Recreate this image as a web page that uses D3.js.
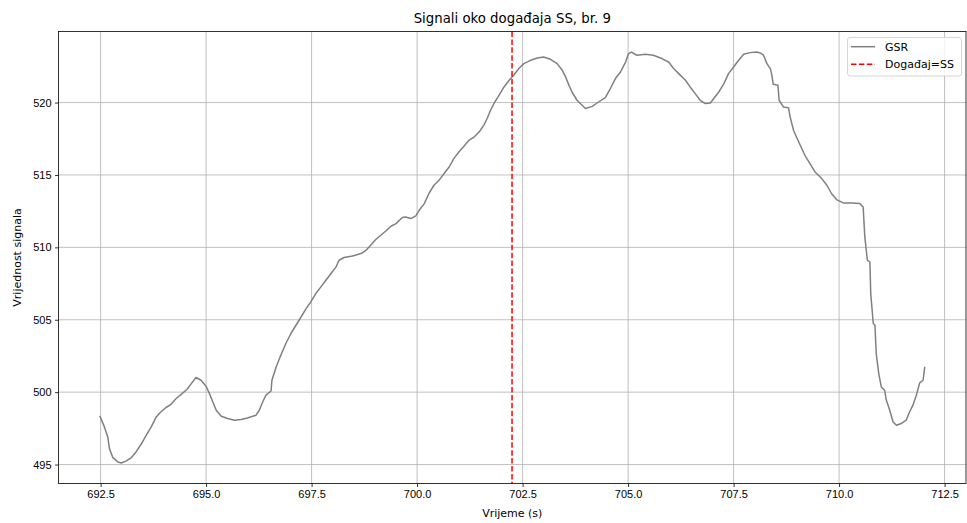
<!DOCTYPE html>
<html>
<head>
<meta charset="utf-8">
<script src="https://cdn.jsdelivr.net/npm/d3@7"></script>
<style>
  body { margin: 0; background: #fff; }
  svg { font-family: "DejaVu Sans", sans-serif; }
</style>
</head>
<body>
<svg id="chart" width="967" height="523"></svg>
<script>
// GSR signal around event SS no. 9
const time = [692.48,692.59,692.67,692.71,692.79,692.91,692.99,693.11,693.23,693.34,693.46,693.58,693.70,693.82,693.90,
  694.05,694.17,694.29,694.41,694.55,694.65,694.76,694.88,695.00,695.08,695.16,695.24,695.36,695.51,695.67,695.83,695.98,
  696.18,696.26,696.34,696.42,696.54,696.56,696.66,696.77,696.89,697.01,697.13,697.25,697.37,697.48,697.60,697.72,697.84,
  697.96,698.08,698.15,698.27,698.47,698.67,698.79,698.90,699.02,699.14,699.26,699.38,699.50,699.65,699.73,699.85,699.97,
  700.05,700.17,700.28,700.40,700.52,700.64,700.76,700.87,700.99,701.11,701.23,701.35,701.47,701.58,701.66,701.74,701.82,
  701.94,702.06,702.18,702.29,702.41,702.53,702.69,702.85,703.00,703.16,703.32,703.44,703.52,703.60,703.67,703.79,703.91,
  703.99,704.15,704.30,704.46,704.58,704.70,704.82,704.94,705.01,705.08,705.21,705.41,705.60,705.80,705.96,706.08,706.20,
  706.36,706.47,706.59,706.71,706.83,706.95,707.03,707.15,707.27,707.38,707.50,707.62,707.74,707.89,708.05,708.13,708.21,
  708.29,708.37,708.40,708.44,708.55,708.58,708.68,708.80,708.84,708.92,708.99,709.08,709.19,709.31,709.43,709.59,709.71,
  709.82,709.94,710.10,710.30,710.49,710.57,710.61,710.67,710.73,710.75,710.81,710.85,710.88,710.94,711.00,711.08,711.12,
  711.20,711.28,711.36,711.47,711.59,711.67,711.75,711.83,711.91,711.99,712.03];
const gsr = [498.36,497.60,496.91,496.10,495.48,495.18,495.11,495.25,495.48,495.87,496.40,497.02,497.60,498.29,498.56,
  498.94,499.16,499.56,499.85,500.20,500.59,501.01,500.82,500.41,499.90,499.32,498.75,498.34,498.18,498.06,498.11,498.22,
  498.40,498.75,499.32,499.79,500.08,500.82,501.74,502.55,503.36,504.05,504.62,505.19,505.77,506.23,506.81,507.27,507.73,
  508.19,508.65,509.11,509.30,509.41,509.57,509.80,510.15,510.54,510.84,511.13,511.46,511.64,512.06,512.10,511.99,512.18,
  512.56,513.02,513.72,514.29,514.63,515.10,515.55,516.13,516.59,516.98,517.40,517.62,517.97,518.43,518.90,519.47,519.93,
  520.50,521.08,521.54,521.89,522.35,522.69,522.92,523.08,523.15,522.99,522.69,522.23,521.77,521.19,520.73,520.16,519.81,
  519.59,519.74,520.04,520.35,520.97,521.66,522.11,522.80,523.38,523.49,523.27,523.34,523.27,523.04,522.80,522.35,522.00,
  521.54,521.08,520.62,520.16,519.93,519.97,520.28,520.73,521.31,522.00,522.46,522.92,523.34,523.45,523.49,523.43,523.27,
  522.69,522.35,522.00,521.26,521.19,520.16,519.70,519.65,519.01,518.09,517.62,517.05,516.36,515.79,515.21,514.75,514.29,
  513.72,513.30,513.07,513.07,513.03,512.79,510.72,509.11,508.99,506.81,504.74,504.62,502.67,501.28,500.36,500.13,499.44,
  498.75,497.94,497.71,497.83,498.06,498.63,499.10,499.79,500.64,500.82,501.74];
const eventTime = 702.25;
const xTicks = [692.5, 695.0, 697.5, 700.0, 702.5, 705.0, 707.5, 710.0, 712.5];
const yTicks = [495, 500, 505, 510, 515, 520];
const legendLabels = ['GSR', 'Događaj=SS'];

const svg = d3.select('#chart');
const L = 58.5, R = 966, T = 31.5, B = 483.5;

// matplotlib-style 5% margins
function padded(arr) {
  const [lo, hi] = d3.extent(arr), p = (hi - lo) * 0.05;
  return [lo - p, hi + p];
}
const x = d3.scaleLinear().domain(padded(time)).range([L, R]);
const y = d3.scaleLinear().domain(padded(gsr)).range([B, T]);

// grid
const grid = svg.append('g').attr('stroke', '#b0b0b0').attr('stroke-width', 0.8);
xTicks.forEach(t => grid.append('line').attr('x1', x(t)).attr('x2', x(t)).attr('y1', T).attr('y2', B));
yTicks.forEach(t => grid.append('line').attr('y1', y(t)).attr('y2', y(t)).attr('x1', L).attr('x2', R));

// axes
const xAxis = svg.append('g').attr('transform', `translate(0,${B})`)
  .call(d3.axisBottom(x).tickValues(xTicks).tickFormat(d3.format('.1f')).tickSizeOuter(0).tickSize(3.5).tickPadding(3.5));
const yAxis = svg.append('g').attr('transform', `translate(${L},0)`)
  .call(d3.axisLeft(y).tickValues(yTicks).tickSizeOuter(0).tickSize(3.5).tickPadding(3.5));
[xAxis, yAxis].forEach(a => {
  a.select('.domain').remove();
  a.selectAll('text').attr('font-size', 11).attr('fill', '#000');
  a.selectAll('line').attr('stroke', '#000').attr('stroke-width', 0.8);
});

// signal
const line = d3.line().x((d, i) => x(time[i])).y(d => y(d));
svg.append('path').datum(gsr).attr('d', line)
  .attr('fill', 'none').attr('stroke', '#808080').attr('stroke-width', 1.5).attr('stroke-linejoin', 'round');

// event marker
svg.append('line').attr('x1', x(eventTime)).attr('x2', x(eventTime)).attr('y1', T).attr('y2', B)
  .attr('stroke', '#ff0000').attr('stroke-width', 1.5).attr('stroke-dasharray', '5.5,2.4');

// frame
svg.append('rect').attr('x', L).attr('y', T).attr('width', R - L).attr('height', B - T)
  .attr('fill', 'none').attr('stroke', '#000').attr('stroke-width', 0.8);

// titles
svg.append('text').attr('x', (L + R) / 2).attr('y', 23).attr('text-anchor', 'middle')
  .attr('font-size', 13.3).text('Signali oko događaja SS, br. 9');
svg.append('text').attr('x', (L + R) / 2).attr('y', 517).attr('text-anchor', 'middle')
  .attr('font-size', 11).text('Vrijeme (s)');
svg.append('text').attr('transform', `translate(21,${(T + B) / 2}) rotate(-90)`).attr('text-anchor', 'middle')
  .attr('font-size', 11).text('Vrijednost signala');

// legend
const lg = svg.append('g');
lg.append('rect').attr('x', 847.5).attr('y', 37.5).attr('width', 114).attr('height', 38.5).attr('rx', 2.5)
  .attr('fill', '#fff').attr('fill-opacity', 0.8).attr('stroke', '#cccccc').attr('stroke-width', 0.8);
lg.append('line').attr('x1', 851).attr('x2', 875).attr('y1', 46.7).attr('y2', 46.7)
  .attr('stroke', '#808080').attr('stroke-width', 1.5);
lg.append('line').attr('x1', 851).attr('x2', 875).attr('y1', 64.3).attr('y2', 64.3)
  .attr('stroke', '#ff0000').attr('stroke-width', 1.5).attr('stroke-dasharray', '5.5,2.4');
legendLabels.forEach((t, i) => lg.append('text').attr('x', 885).attr('y', 50.6 + i * 17.6)
  .attr('font-size', 11).text(t));
</script>
</body>
</html>
